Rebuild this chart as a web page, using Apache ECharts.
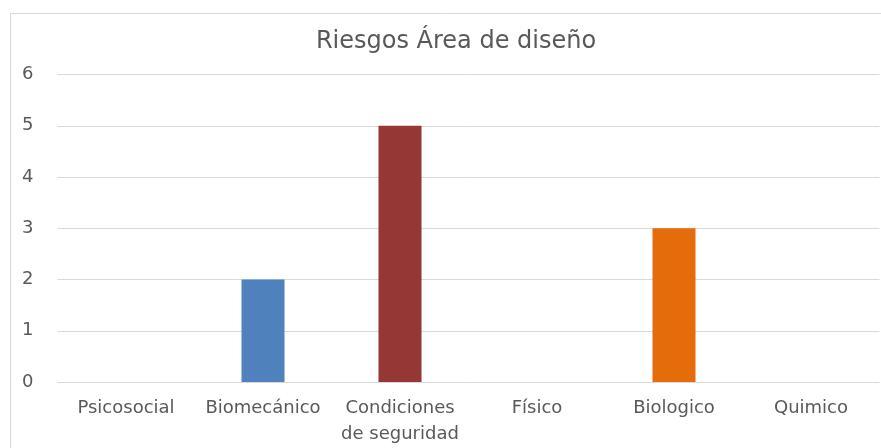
<!DOCTYPE html>
<html>
<head>
<meta charset="utf-8">
<script src="https://cdn.jsdelivr.net/npm/echarts@6/dist/echarts.min.js"></script>
<style>
  html, body { margin: 0; padding: 0; background: #fff; }
  #chart { width: 881px; height: 448px; }
</style>
</head>
<body>
<div id="chart"></div>
<script>
const categories = ['Psicosocial', 'Biomecánico', 'Condiciones de seguridad', 'Físico', 'Biologico', 'Quimico']
const values = [0, 2, 5, 0, 3, 0]
const barColors = ['#4f81bd', '#4f81bd', '#953735', '#4f81bd', '#e46c0a', '#4f81bd']

const chart = echarts.init(document.getElementById('chart'))

const textColor = '#595959'
const font = 'DejaVu Sans'

chart.setOption({
  animation: false,
  title: {
    text: 'Riesgos Área de diseño',
    left: 451,
    top: 25,
    textAlign: 'center',
    textStyle: {
      color: textColor,
      fontFamily: font,
      fontSize: 24,
      fontWeight: 'normal',
    },
  },
  graphic: [
    {
      type: 'rect',
      shape: { x: 10.5, y: 13.5, width: 900, height: 460 },
      style: { fill: 'none', stroke: '#d9d9d9', lineWidth: 1 },
      silent: true,
    },
  ],
  grid: {
    left: 57.5,
    right: 1.5,
    top: 74.5,
    bottom: 66,
  },
  xAxis: {
    type: 'category',
    data: categories,
    axisLine: { show: false },
    axisTick: { show: false },
    axisLabel: {
      color: textColor,
      fontFamily: font,
      fontSize: 18,
      margin: 13,
      lineHeight: 26,
      interval: 0,
      formatter: (v) => v.replace(' de ', '\nde '),
    },
  },
  yAxis: {
    type: 'value',
    min: 0,
    max: 6,
    interval: 1,
    axisLine: { show: false },
    axisTick: { show: false },
    axisLabel: {
      color: textColor,
      fontFamily: font,
      fontSize: 18,
      margin: 24,
    },
    splitLine: {
      lineStyle: { color: '#d9d9d9', width: 1 },
    },
  },
  series: [
    {
      type: 'bar',
      data: values.map((v, i) => ({ value: v, itemStyle: { color: barColors[i] } })),
      barWidth: 43,
    },
  ],
})
</script>
</body>
</html>
